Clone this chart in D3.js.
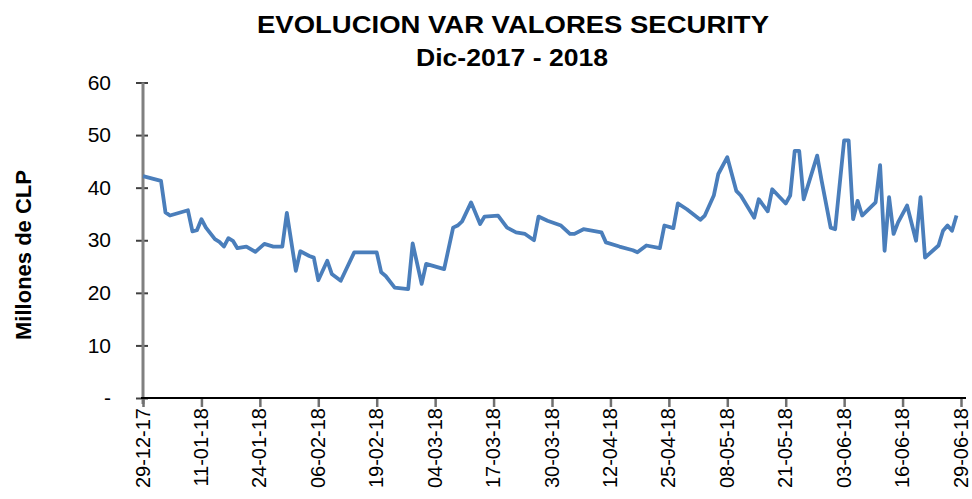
<!DOCTYPE html>
<html>
<head>
<meta charset="utf-8">
<script src="https://cdn.jsdelivr.net/npm/d3@7"></script>
<style>
  body { margin: 0; background: #fff; }
  svg { display: block; font-family: 'Liberation Sans', Arial, sans-serif; }
</style>
</head>
<body>
<div id="chart"></div>
<script>
// Serie VaR (millones de CLP)
const dates = [
  '2017-12-29', '2018-01-02', '2018-01-03', '2018-01-04', '2018-01-08', '2018-01-09',
  '2018-01-10', '2018-01-11', '2018-01-12', '2018-01-14', '2018-01-15', '2018-01-16',
  '2018-01-17', '2018-01-18', '2018-01-19', '2018-01-21', '2018-01-23', '2018-01-25',
  '2018-01-27', '2018-01-29', '2018-01-30', '2018-02-01', '2018-02-02', '2018-02-04',
  '2018-02-05', '2018-02-06', '2018-02-08', '2018-02-09', '2018-02-11', '2018-02-14',
  '2018-02-19', '2018-02-20', '2018-02-21', '2018-02-23', '2018-02-26', '2018-02-27',
  '2018-03-01', '2018-03-02', '2018-03-06', '2018-03-08', '2018-03-09', '2018-03-10',
  '2018-03-12', '2018-03-14', '2018-03-15', '2018-03-18', '2018-03-20', '2018-03-22',
  '2018-03-24', '2018-03-26', '2018-03-27', '2018-03-29', '2018-04-01', '2018-04-03',
  '2018-04-04', '2018-04-06', '2018-04-10', '2018-04-11', '2018-04-14', '2018-04-17',
  '2018-04-18', '2018-04-20', '2018-04-23', '2018-04-24', '2018-04-26', '2018-04-27',
  '2018-04-29', '2018-05-02', '2018-05-03', '2018-05-05', '2018-05-06', '2018-05-08',
  '2018-05-10', '2018-05-11', '2018-05-14', '2018-05-15', '2018-05-17', '2018-05-18',
  '2018-05-21', '2018-05-22', '2018-05-23', '2018-05-24', '2018-05-25', '2018-05-28',
  '2018-05-29', '2018-05-31', '2018-06-01', '2018-06-03', '2018-06-04', '2018-06-05',
  '2018-06-06', '2018-06-07', '2018-06-10', '2018-06-11', '2018-06-12', '2018-06-13',
  '2018-06-14', '2018-06-15', '2018-06-17', '2018-06-19', '2018-06-20', '2018-06-21',
  '2018-06-24', '2018-06-25', '2018-06-26', '2018-06-27', '2018-06-28'
];
const values = [
  42.2, 41.3, 35.3, 34.7, 35.7, 31.7,
  31.9, 34.0, 32.4, 30.2, 29.7, 28.8,
  30.4, 29.9, 28.5, 28.8, 27.8, 29.3,
  28.8, 28.8, 35.2, 24.2, 27.9, 27.0,
  26.7, 22.4, 26.1, 23.6, 22.3, 27.7,
  27.7, 23.9, 23.2, 21.0, 20.7, 29.4,
  21.7, 25.5, 24.5, 32.4, 32.8, 33.6,
  37.2, 33.1, 34.5, 34.7, 32.4, 31.5,
  31.2, 30.0, 34.5, 33.7, 32.8, 31.2,
  31.2, 32.1, 31.5, 29.6, 28.8, 28.1,
  27.7, 29.0, 28.5, 32.8, 32.3, 37.0,
  35.9, 33.9, 34.7, 38.5, 42.6, 45.8,
  39.4, 38.5, 34.3, 37.8, 35.5, 39.7,
  37.0, 38.5, 47.0, 47.0, 37.8, 46.1,
  41.3, 32.4, 32.1, 49.0, 49.0, 34.0,
  37.5, 34.7, 37.2, 44.3, 28.0, 38.2,
  31.2, 33.4, 36.6, 29.9, 38.2, 26.7,
  29.0, 31.8, 32.8, 31.8, 34.7
];
const tickDates = [
  '2017-12-29', '2018-01-11', '2018-01-24', '2018-02-06', '2018-02-19',
  '2018-03-04', '2018-03-17', '2018-03-30', '2018-04-12', '2018-04-25',
  '2018-05-08', '2018-05-21', '2018-06-03', '2018-06-16', '2018-06-29'
];
const yTicks = [0, 10, 20, 30, 40, 50, 60];

const width = 972;
const height = 499;
const parse = d3.timeParse('%Y-%m-%d');
const series = dates.map((d, i) => ({ date: parse(d), value: values[i] }));

const x = d3.scaleTime()
  .domain([parse(tickDates[0]), parse(tickDates[tickDates.length - 1])])
  .range([143, 961]);
const y = d3.scaleLinear()
  .domain([0, 60])
  .range([398, 82.5]);

const svg = d3.select('#chart').append('svg')
  .attr('width', width)
  .attr('height', height);

// Títulos
svg.append('text')
  .attr('x', 513).attr('y', 33)
  .attr('text-anchor', 'middle')
  .attr('font-size', '23px').attr('font-weight', 'bold')
  .attr('textLength', 512).attr('lengthAdjust', 'spacingAndGlyphs')
  .text('EVOLUCION VAR VALORES SECURITY');
svg.append('text')
  .attr('x', 512).attr('y', 66)
  .attr('text-anchor', 'middle')
  .attr('font-size', '23px').attr('font-weight', 'bold')
  .attr('textLength', 192).attr('lengthAdjust', 'spacingAndGlyphs')
  .text('Dic-2017 - 2018');

// Eje Y
const yAxis = svg.append('g')
  .attr('transform', 'translate(143,0)')
  .call(d3.axisLeft(y).tickValues(yTicks).tickSize(7).tickPadding(0)
    .tickFormat(d => d === 0 ? '-' : d));
yAxis.select('.domain').remove();
yAxis.append('line')
  .attr('x1', 0).attr('x2', 0)
  .attr('y1', y(60)).attr('y2', 404)
  .attr('stroke', '#808080').attr('stroke-width', 3);
yAxis.selectAll('.tick line')
  .attr('x1', -7).attr('x2', 5)
  .attr('stroke', '#404040').attr('stroke-width', 2);
yAxis.selectAll('.tick text')
  .attr('x', -32)
  .attr('font-size', '21px')
  .attr('fill', '#000');

svg.append('text')
  .attr('transform', 'translate(31,255) rotate(-90)')
  .attr('text-anchor', 'middle')
  .attr('font-size', '22px').attr('font-weight', 'bold')
  .text('Millones de CLP');

// Eje X
const xAxis = svg.append('g')
  .attr('transform', `translate(0,${y(0)})`)
  .call(d3.axisBottom(x).tickValues(tickDates.map(parse)).tickSize(9)
    .tickFormat(d3.timeFormat('%d-%m-%y')));
xAxis.select('.domain').remove();
xAxis.append('line')
  .attr('x1', 141).attr('x2', 966)
  .attr('stroke', '#000').attr('stroke-width', 2);
xAxis.selectAll('.tick line')
  .attr('stroke', '#707070').attr('stroke-width', 2.5);
xAxis.selectAll('.tick text')
  .attr('transform', 'rotate(-90)')
  .attr('text-anchor', 'end')
  .attr('x', -10).attr('y', 0).attr('dy', '0.3em')
  .attr('font-size', '20px')
  .attr('fill', '#000');

// Línea
svg.append('path')
  .datum(series)
  .attr('fill', 'none')
  .attr('stroke', '#4A7EBB')
  .attr('stroke-width', 3.8)
  .attr('stroke-linejoin', 'round')
  .attr('d', d3.line().x(d => x(d.date)).y(d => y(d.value)));
</script>
</body>
</html>
